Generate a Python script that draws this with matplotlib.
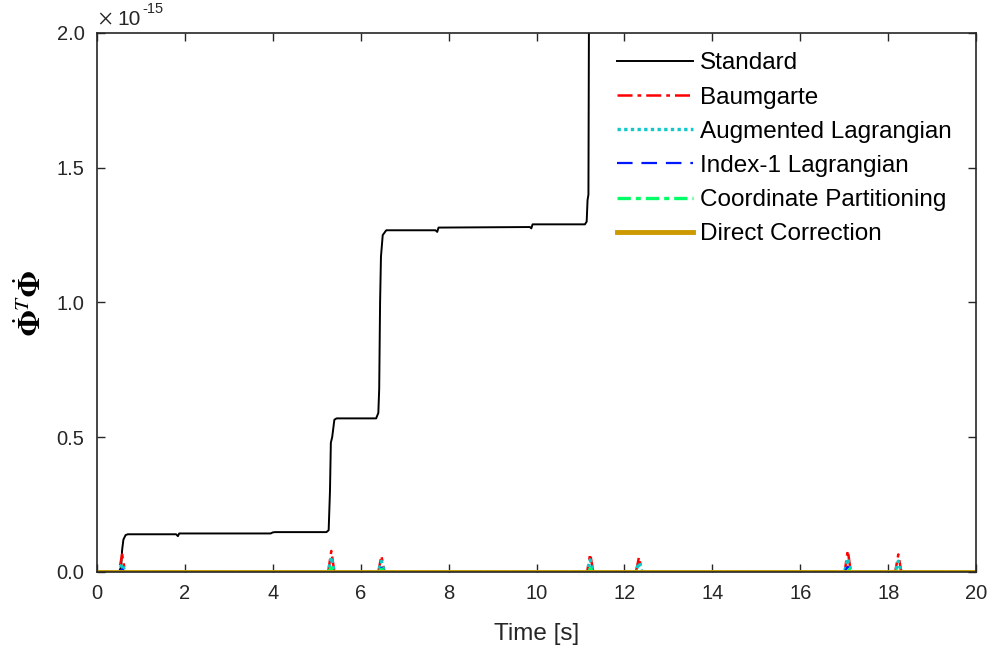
import matplotlib
matplotlib.use("Agg")
import matplotlib.pyplot as plt
import numpy as np

# --- data (values in units of 1e-15) ---
t_standard = [0, 0.50, 0.55, 0.57, 0.60, 0.65, 0.70, 1.80, 1.84, 1.87, 1.92,
              3.95, 4.00, 4.05, 5.22, 5.27, 5.30, 5.32, 5.35, 5.40, 5.45,
              6.35, 6.40, 6.42, 6.44, 6.46, 6.50, 6.58, 7.70, 7.74, 7.77,
              7.80, 9.85, 9.88, 9.91, 9.95, 11.10, 11.14, 11.16, 11.18, 11.20]
v_standard = [0, 0.0, 0.02, 0.08, 0.12, 0.137, 0.140, 0.140, 0.133, 0.143, 0.143,
              0.143, 0.147, 0.148, 0.148, 0.155, 0.30, 0.48, 0.50, 0.565, 0.570,
              0.570, 0.59, 0.68, 1.00, 1.17, 1.25, 1.268, 1.268, 1.262, 1.278,
              1.278, 1.280, 1.275, 1.290, 1.290, 1.290, 1.30, 1.38, 1.40, 2.5]

spike_times = [0.57, 5.33, 6.47, 11.22, 12.33, 17.08, 18.23]
baumgarte_peaks = [0.065, 0.078, 0.060, 0.067, 0.055, 0.080, 0.065]
augmented_peaks = [0.030, 0.055, 0.040, 0.045, 0.035, 0.050, 0.040]
index1_peaks = [0.010, 0.020, 0.015, 0.015, 0.010, 0.020, 0.015]
coord_peaks = [0.008, 0.015, 0.010, 0.012, 0.008, 0.015, 0.010]
t_end = 20


def spike_series(times, peaks, half=0.07):
    t = [0]
    v = [0]
    for tp, vp in zip(times, peaks):
        t += [tp - half, tp, tp + half]
        v += [0, vp, 0]
    t.append(t_end)
    v.append(0)
    return t, v


plt.rcParams["font.family"] = ["Liberation Sans", "DejaVu Sans"]
plt.rcParams["mathtext.fontset"] = "stix"

fig = plt.figure(figsize=(9.94, 6.52), dpi=100)
ax = fig.add_axes([0.0976, 0.1227, 0.8844, 0.8267])

ax.plot(t_standard, v_standard, color="black", lw=1.4, label="Standard")
t, v = spike_series(spike_times, baumgarte_peaks)
ax.plot(t, v, color="red", lw=1.8, linestyle=(0, (6, 2, 1.5, 2)), label="Baumgarte")
t, v = spike_series(spike_times, augmented_peaks)
ax.plot(t, v, color="#10C8C8", lw=2.4, linestyle=(0, (1, 1)), label="Augmented Lagrangian")
t, v = spike_series(spike_times, index1_peaks)
ax.plot(t, v, color="#0018FF", lw=1.6, linestyle=(0, (7, 4)), label="Index-1 Lagrangian")
t, v = spike_series(spike_times, coord_peaks)
ax.plot(t, v, color="#00FF66", lw=2.4, linestyle=(0, (4, 1.5, 1.5, 1.5)), label="Coordinate Partitioning")
ax.plot([0, t_end], [0, 0], color="#CC9900", lw=3.5, label="Direct Correction")

ax.set_xlim(0, 20)
ax.set_ylim(0, 2.0)
ax.set_xticks(np.arange(0, 21, 2))
ax.set_yticks([0, 0.5, 1.0, 1.5, 2.0])
ax.set_yticklabels(["0.0", "0.5", "1.0", "1.5", "2.0"])
ax.tick_params(direction="in", length=6, width=1, top=True, right=True,
               labelsize=14.5, colors="#262626")
ax.tick_params(axis="y", pad=9)
ax.tick_params(axis="x", pad=9)
for s in ax.spines.values():
    s.set_linewidth(1.2)
    s.set_color("#262626")

ax.set_xlabel("Time [s]", fontsize=17.5, color="#262626", labelpad=14)
ax.set_ylabel(r"$\dot{\mathbf{\Phi}}^{T}\dot{\mathbf{\Phi}}$", fontsize=22, labelpad=6)

# --- exponent label ---
fig.text(0.099, 0.962, r"$\times$", fontsize=15, color="#262626")
fig.text(0.118, 0.962, "10", fontsize=15, color="#262626")
fig.text(0.143, 0.980, "-15", fontsize=10.5, color="#262626")

leg = ax.legend(loc="upper left", frameon=False, fontsize=17.5,
                handlelength=3.1, handletextpad=0.3, labelspacing=0.5,
                borderpad=0, borderaxespad=0,
                bbox_to_anchor=(0.592, 0.964))

plt.savefig("out.png", dpi=100)
